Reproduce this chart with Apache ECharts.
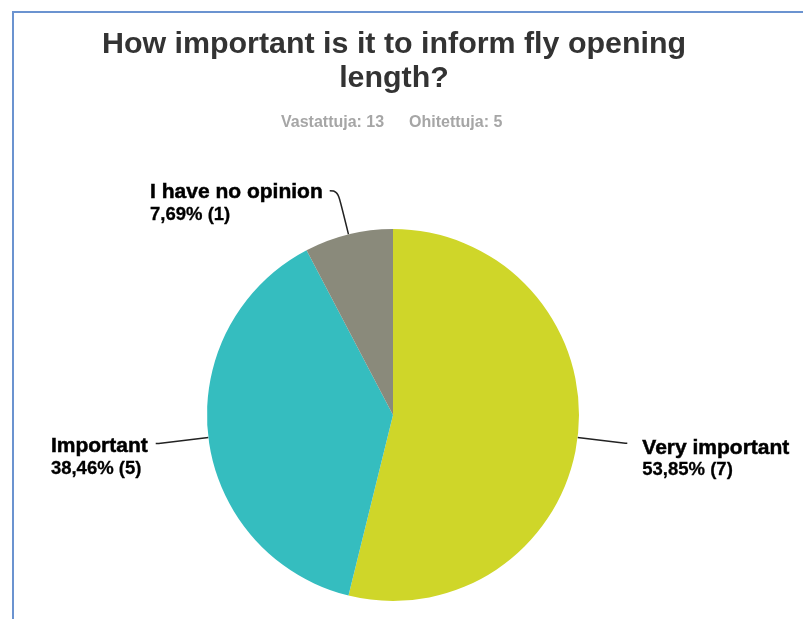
<!DOCTYPE html>
<html>
<head>
<meta charset="utf-8">
<script src="https://cdn.jsdelivr.net/npm/echarts@6/dist/echarts.min.js"></script>
<style>
  html, body { margin: 0; padding: 0; background: #ffffff; overflow: hidden; }
  #chart { width: 803px; height: 619px; }
</style>
</head>
<body>
<div id="chart"></div>
<script>
// Survey answers
const answers = ['Very important', 'Important', 'I have no opinion'];
const counts = [7, 5, 1];
const skipped = 5;
const sliceColors = ['#cfd629', '#35bdbf', '#8a8a7b'];
const titleText = 'How important is it to inform fly opening\nlength?';

const total = counts.reduce((a, b) => a + b, 0);
const pct = v => (v / total * 100).toFixed(2).replace('.', ',') + '%';

// per-slice label placement (leader-line lengths and text padding)
const labelCfg = [
  { length: 48, length2: 2, padding: [31, 0, 0, 10], smooth: false },
  { length: 50, length2: 3, padding: [28, 3, 0, 0], smooth: false },
  { length: 45, length2: 8, padding: [25, 2, 0, 0], smooth: 0.5 }
];

const data = answers.map((name, i) => ({
  name: name,
  value: counts[i],
  itemStyle: { color: sliceColors[i] },
  label: { padding: labelCfg[i].padding },
  labelLine: { length: labelCfg[i].length, length2: labelCfg[i].length2, smooth: labelCfg[i].smooth }
}));

const labelFont = 'Liberation Sans, Arial, sans-serif';

const chart = echarts.init(document.getElementById('chart'), null, { renderer: 'canvas' });
chart.setOption({
  backgroundColor: '#ffffff',
  animation: false,
  title: {
    text: titleText,
    left: 394,
    top: 28,
    padding: 0,
    textAlign: 'center',
    textStyle: {
      fontFamily: labelFont,
      fontSize: 30.4,
      fontWeight: 'bold',
      color: '#333333',
      lineHeight: 34
    }
  },
  graphic: [
    {
      type: 'polyline',
      silent: true,
      shape: { points: [[13, 619], [13, 12], [803, 12]] },
      style: { stroke: '#6b93d0', lineWidth: 2, fill: null }
    },
    {
      type: 'text', left: 281, top: 115, silent: true,
      style: {
        text: 'Vastattuja: ' + total,
        font: 'bold 16px "Liberation Sans", Arial, sans-serif',
        fill: '#a6a6a6'
      }
    },
    {
      type: 'text', left: 409, top: 115, silent: true,
      style: {
        text: 'Ohitettuja: ' + skipped,
        font: 'bold 16px "Liberation Sans", Arial, sans-serif',
        fill: '#a6a6a6'
      }
    }
  ],
  series: [{
    type: 'pie',
    center: [393, 415],
    radius: 186,
    startAngle: 90,
    clockwise: true,
    avoidLabelOverlap: false,
    emphasis: { disabled: true },
    label: {
      show: true,
      position: 'outside',
      formatter: p => '{n|' + p.name + '}\n{v|' + pct(p.value) + ' (' + p.value + ')}',
      rich: {
        n: {
          fontFamily: labelFont, fontSize: 21, fontWeight: 'bold', color: '#000000',
          lineHeight: 23, align: 'left', textBorderColor: '#000000', textBorderWidth: 0.5
        },
        v: {
          fontFamily: labelFont, fontSize: 18.5, fontWeight: 'bold', color: '#000000',
          lineHeight: 22, align: 'left', textBorderColor: '#000000', textBorderWidth: 0.3
        }
      }
    },
    labelLine: {
      show: true,
      lineStyle: { color: '#222222', width: 1.5 }
    },
    data: data
  }]
});
</script>
</body>
</html>
